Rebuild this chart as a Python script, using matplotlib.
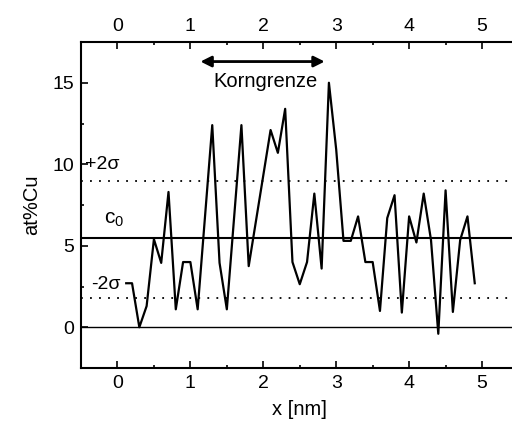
import matplotlib
matplotlib.use("Agg")
import matplotlib.pyplot as plt
from matplotlib.ticker import MultipleLocator

plt.rcParams['font.family'] = ['Liberation Sans', 'DejaVu Sans']
plt.rcParams['mathtext.fontset'] = 'custom'
plt.rcParams['mathtext.rm'] = 'Liberation Sans'
plt.rcParams['mathtext.it'] = 'Liberation Sans'

# concentration profile
pos_nm = [0.12, 0.2, 0.3, 0.4, 0.5, 0.6, 0.7, 0.8, 0.9, 1.0, 1.1, 1.3, 1.4, 1.5,
          1.7, 1.8, 2.1, 2.2, 2.3, 2.4, 2.5, 2.6, 2.7, 2.8, 2.9, 3.0, 3.1, 3.2,
          3.3, 3.4, 3.5, 3.6, 3.7, 3.8, 3.9, 4.0, 4.1, 4.2, 4.3, 4.4, 4.5, 4.6,
          4.7, 4.8, 4.9]
cu = [2.7, 2.7, 0.0, 1.3, 5.4, 3.95, 8.3, 1.1, 4.0, 4.0, 1.1, 12.4, 3.95, 1.1,
      12.4, 3.75, 12.1, 10.7, 13.4, 4.0, 2.64, 4.0, 8.2, 3.6, 15.0, 10.9, 5.3, 5.3,
      6.8, 4.0, 4.0, 1.0, 6.7, 8.1, 0.9, 6.8, 5.2, 8.2, 5.35, -0.4, 8.4, 0.94,
      5.35, 6.8, 2.7]

c0 = 5.5
plus_2sigma = 8.95
minus_2sigma = 1.8
gb_start, gb_end = 1.1, 2.88

fig = plt.figure(figsize=(5.12, 4.30), dpi=100)
ax = fig.add_axes([81 / 512, 62 / 430, 437.5 / 512, 326 / 430])

ax.plot(pos_nm, cu, color='black', lw=1.6)
ax.axhline(c0, color='black', lw=1.5)
ax.axhline(0, color='black', lw=1.0)
ax.axhline(plus_2sigma, color='black', lw=1.3, ls=(0, (1, 4)))
ax.axhline(minus_2sigma, color='black', lw=1.3, ls=(0, (1, 4)))

ax.set_xlim(-0.5, 5.5)
ax.set_ylim(-2.5, 17.5)
ax.xaxis.set_major_locator(MultipleLocator(1))
ax.xaxis.set_minor_locator(MultipleLocator(0.5))
ax.yaxis.set_major_locator(MultipleLocator(5))
ax.yaxis.set_minor_locator(MultipleLocator(2.5))
ax.tick_params(which='both', direction='in', top=True, right=True,
               labeltop=True, labelsize=14, width=1.2)
ax.tick_params(which='major', length=5, pad=5)
ax.tick_params(which='minor', length=2.5)
for s in ax.spines.values():
    s.set_linewidth(1.5)

ax.set_xlabel('x [nm]', fontsize=14.5, labelpad=6)
ax.set_ylabel('at%Cu', fontsize=14.5, labelpad=8)

ax.text(-0.44, 10.0, '+2σ', fontsize=14, va='center', ha='left')
ax.text(-0.36, 2.65, '-2σ', fontsize=14, va='center', ha='left')
ax.text(-0.18, 6.6, 'c$_0$', fontsize=15, va='center', ha='left')

ax.annotate('', xy=(gb_start, 16.3), xytext=(gb_end, 16.3),
            arrowprops=dict(arrowstyle='<|-|>', color='black', lw=2.0,
                            mutation_scale=16))
ax.text(2.03, 15.1, 'Korngrenze', fontsize=14.5, ha='center', va='center')

fig.savefig('out.png', dpi=100)
